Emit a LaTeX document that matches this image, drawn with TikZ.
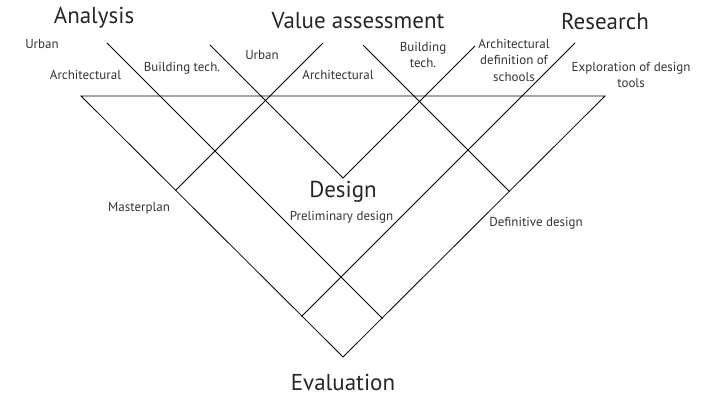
\documentclass[tikz,border=0pt]{standalone}
\usepackage{fontspec}
\setmainfont{PT Sans}
\begin{document}
\begin{tikzpicture}[x=1pt,y=-1pt,
  rule/.style={draw=black,line width=0.8pt},
  heading/.style={font=\fontsize{23}{26}\selectfont,text=black!85,inner sep=0pt},
  label/.style={font=\fontsize{13}{16.5}\selectfont,text=black!80,inner sep=0pt,align=center}]
\useasboundingbox (0,0) rectangle (708,395);
% triangle frame
\coordinate (tl) at (81,96);
\coordinate (tr) at (605,96);
\coordinate (bo) at (343,357);
% diagonal strands
\coordinate (a1) at (107,43);   \coordinate (a2) at (382.5,318.5);
\coordinate (v1) at (210,45);   \coordinate (v2) at (343,178);  \coordinate (v3) at (475,46);
\coordinate (b1) at (363,45);   \coordinate (b2) at (509.5,191.5);
\coordinate (c1) at (323,43);   \coordinate (c2) at (175.5,190.5);
\coordinate (d1) at (575,43);   \coordinate (d2) at (301.5,316.5);
\draw[rule] (tl) -- (tr) -- (bo) -- cycle;
\draw[rule] (a1) -- (a2);
\draw[rule] (v1) -- (v2) -- (v3);
\draw[rule] (b1) -- (b2);
\draw[rule] (c1) -- (c2);
\draw[rule] (d1) -- (d2);
% phase headings
\node[heading] (analysis) at (94,18) {Analysis};
\node[heading] (value) at (358,21) {Value assessment};
\node[heading] (research) at (605,21) {Research};
\node[heading] (design) at (343,192) {Design};
\node[heading] (evaluation) at (343,382) {Evaluation};
% sub-labels
\node[label] (urban1) at (42,44) {Urban};
\node[label] (arch1) at (85.5,75) {Architectural};
\node[label] (build1) at (182,68) {Building tech.};
\node[label] (urban2) at (262,55) {Urban};
\node[label] (arch2) at (338,75) {Architectural};
\node[label] (build2) at (423,55) {Building\\tech.};
\node[label] (archdef) at (514,60) {Architectural\\definition of\\schools};
\node[label] (explore) at (631,75) {Exploration of design\\tools};
\node[label] (master) at (139,208) {Masterplan};
\node[label] (prelim) at (341.5,217) {Preliminary design};
\node[label] (defin) at (536,223) {Definitive design};
\end{tikzpicture}
\end{document}
